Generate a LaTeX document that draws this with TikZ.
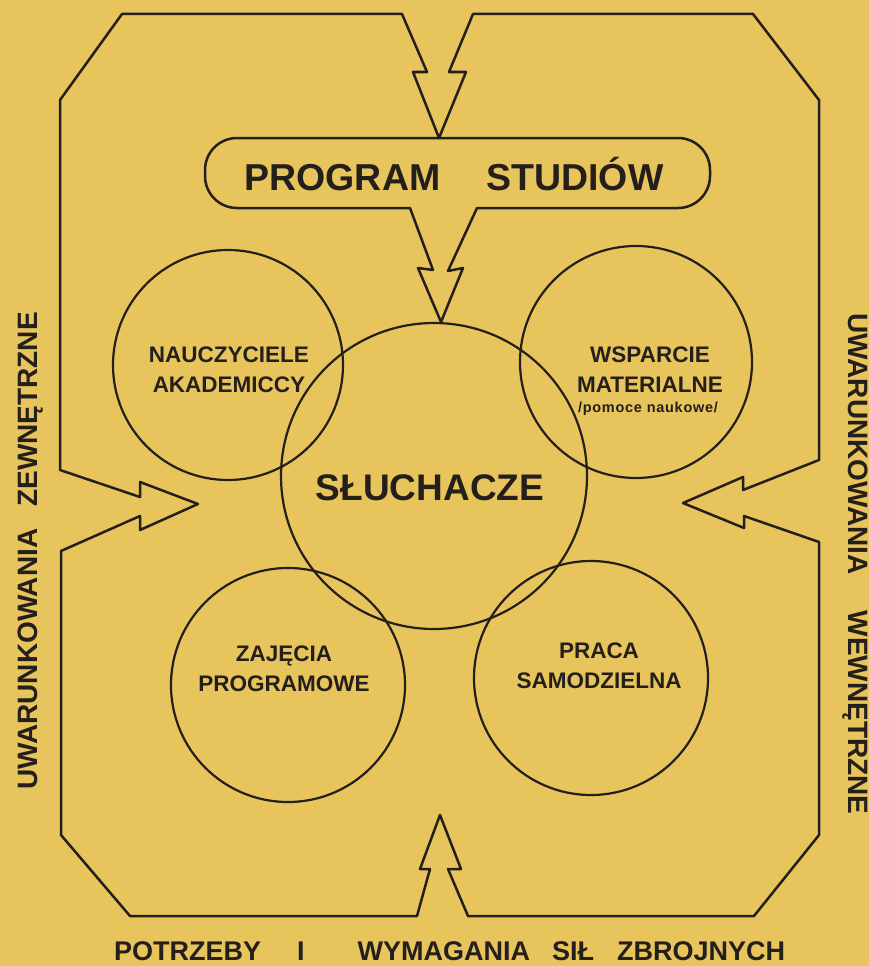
\documentclass[tikz,border=0pt]{standalone}
\usepackage{fontspec}
\setmainfont{Liberation Sans}
\definecolor{paper}{RGB}{231,196,92}
\definecolor{ink}{RGB}{36,31,27}

\begin{document}
\begin{tikzpicture}[x=1pt, y=-1pt,
        line join=round, line cap=round,
        every node/.style={text=ink, align=center, inner sep=0pt},
        frame/.style={draw=ink, line width=2.5pt},
        ring/.style={draw=ink, line width=2.2pt},
        circtext/.style={font=\bfseries\fontsize{22.5}{30}\selectfont}]

    % Paper
    \fill[paper] (0,0) rectangle (869,966);
    \useasboundingbox (0,0) rectangle (869,966);

    % Outer frame with the four inward arrows
    \draw[frame] (402,14) -- (122,14) -- (60,100) -- (60,470)
        -- (140,497) -- (140,482) -- (198,504) -- (140,530) -- (140,516) -- (61,551)
        -- (61,835) -- (130,916) -- (417,916)
        -- (430,869) -- (420,869) -- (440,815) -- (461,869) -- (448,869) -- (468,916)
        -- (754,916) -- (819,835) -- (819,542)
        -- (744,516) -- (744,528) -- (683,503) -- (743,477) -- (743,490) -- (819,460)
        -- (819,100) -- (753,14) -- (473,14)
        -- (449,72) -- (466,72) -- (439,138) -- (413,72) -- (427,72) -- cycle;

    % Programme box opening into the arrow
    \draw[frame] (477,208) -- (448,271) -- (463,268) -- (441,322) -- (418,268) -- (433,270) -- (410,208)
        [rounded corners=32pt] -- (205,208) -- (205,138) -- (710,138) -- (710,208) -- (477,208);
    \node[anchor=base, font=\bfseries\fontsize{37.5}{44}\selectfont] (prog) at (454,190) {PROGRAM\hspace{46pt}STUDIÓW};

    % Circles
    \coordinate (cNau) at (228,365);
    \coordinate (cWsp) at (636,362);
    \coordinate (cSl) at (434,476);
    \coordinate (cZaj) at (288,685);
    \coordinate (cPr) at (591,678);
    \draw[ring] (cNau) circle[radius=115];
    \draw[ring] (cWsp) circle[radius=116];
    \draw[ring] (cSl) circle[radius=153];
    \draw[ring] (cZaj) circle[radius=117];
    \draw[ring] (cPr) circle[radius=117];

    % Circle labels
    \node[circtext] (nau) at (229,370) {NAUCZYCIELE\\AKADEMICCY};
    \node[circtext] (wsp) at (650,370) {WSPARCIE\\MATERIALNE};
    \node[anchor=base, font=\bfseries\fontsize{14.5}{17}\selectfont\addfontfeature{LetterSpace=5}] (pom) at (648,412) {/pomoce naukowe/};
    \node[anchor=base, font=\bfseries\fontsize{37}{44}\selectfont] (sl) at (430,500) {SŁUCHACZE};
    \node[circtext] (zaj) at (284,669) {ZAJĘCIA\\PROGRAMOWE};
    \node[circtext] (pr) at (599,666) {PRACA\\SAMODZIELNA};

    % Outside conditions
    \node[rotate=90, font=\bfseries\fontsize{28}{33}\selectfont] (zew) at (31,551) {UWARUNKOWANIA\hspace{22pt}ZEWNĘTRZNE};
    \node[rotate=-90, font=\bfseries\fontsize{28}{33}\selectfont] (wew) at (855,564) {UWARUNKOWANIA\hspace{36pt}WEWNĘTRZNE};
    \node[anchor=base west, font=\bfseries\fontsize{27}{32}\selectfont] (potrz) at (114,960) {POTRZEBY\hspace{36pt}I\hspace{53pt}WYMAGANIA\hspace{22pt}SIŁ\hspace{23pt}ZBROJNYCH};
\end{tikzpicture}
\end{document}
